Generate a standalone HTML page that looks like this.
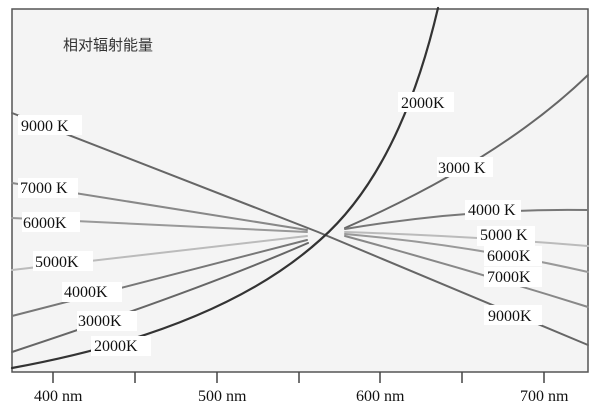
<!DOCTYPE html>
<html><head><meta charset="utf-8"><style>
body{margin:0;background:#fff;}
svg{display:block;}
text{font-family:"Liberation Serif",serif;font-size:16px;fill:#111;}
</style></head><body>
<svg width="600" height="408" viewBox="0 0 600 408">
<rect x="0" y="0" width="600" height="408" fill="#fff"/>
<rect x="12" y="9" width="576" height="363" fill="#f4f4f4" stroke="#555" stroke-width="1.5"/>
<text x="63" y="50" style="font-family:'Noto Sans CJK SC',sans-serif;font-size:15px;fill:#333">相对辐射能量</text>
<g fill="none" stroke-linecap="round">
<path d="M12,113 L318,232 L588,345" stroke="#666" stroke-width="2"/>
<path d="M12,183 L307,230" stroke="#888" stroke-width="2"/>
<path d="M12,218 L307,232" stroke="#999" stroke-width="2"/>
<path d="M12,270 L307,236" stroke="#bbb" stroke-width="2"/>
<path d="M12,316 L307,240" stroke="#777" stroke-width="2"/>
<path d="M12,352 Q200,290 308,243" stroke="#666" stroke-width="2"/>
<path d="M12,368 Q220,330 320,240 Q400,170 438,8" stroke="#333" stroke-width="2.2"/>
<path d="M345,228 Q500,160 588,75" stroke="#666" stroke-width="2"/>
<path d="M345,229 Q470,208 588,210" stroke="#777" stroke-width="2"/>
<path d="M345,232 Q470,236 588,246" stroke="#bbb" stroke-width="2"/>
<path d="M345,234 Q470,245 588,272" stroke="#999" stroke-width="2"/>
<path d="M345,236 Q470,270 588,307" stroke="#888" stroke-width="2"/>
</g>
<g fill="#fff">
<rect x="18" y="115" width="64" height="20"/>
<rect x="18" y="178" width="60" height="20"/>
<rect x="22" y="212" width="58" height="20"/>
<rect x="33" y="251" width="60" height="20"/>
<rect x="62" y="282" width="60" height="20"/>
<rect x="77" y="311" width="60" height="20"/>
<rect x="91" y="336" width="60" height="20"/>
<rect x="398" y="92" width="56" height="20"/>
<rect x="437" y="157" width="56" height="20"/>
<rect x="465" y="200" width="56" height="20"/>
<rect x="477" y="226" width="58" height="20"/>
<rect x="484" y="246" width="58" height="20"/>
<rect x="484" y="267" width="58" height="20"/>
<rect x="484" y="305" width="58" height="20"/>
</g>
<text x="21" y="131">9000 K</text>
<text x="20" y="193">7000 K</text>
<text x="23" y="228">6000K</text>
<text x="35" y="267">5000K</text>
<text x="64" y="297">4000K</text>
<text x="78" y="326">3000K</text>
<text x="94" y="351">2000K</text>
<text x="401" y="108">2000K</text>
<text x="438" y="173">3000 K</text>
<text x="468" y="215">4000 K</text>
<text x="480" y="240">5000 K</text>
<text x="487" y="261">6000K</text>
<text x="487" y="282">7000K</text>
<text x="488" y="321">9000K</text>
<g stroke="#444" stroke-width="1.5">
<line x1="53" y1="372" x2="53" y2="383"/>
<line x1="135" y1="372" x2="135" y2="383"/>
<line x1="217" y1="372" x2="217" y2="383"/>
<line x1="299" y1="372" x2="299" y2="383"/>
<line x1="380" y1="372" x2="380" y2="383"/>
<line x1="462" y1="372" x2="462" y2="383"/>
<line x1="544" y1="372" x2="544" y2="383"/>
</g>
<text x="34" y="401">400 nm</text>
<text x="198" y="401">500 nm</text>
<text x="356" y="401">600 nm</text>
<text x="520" y="401">700 nm</text>
</svg>
</body></html>
